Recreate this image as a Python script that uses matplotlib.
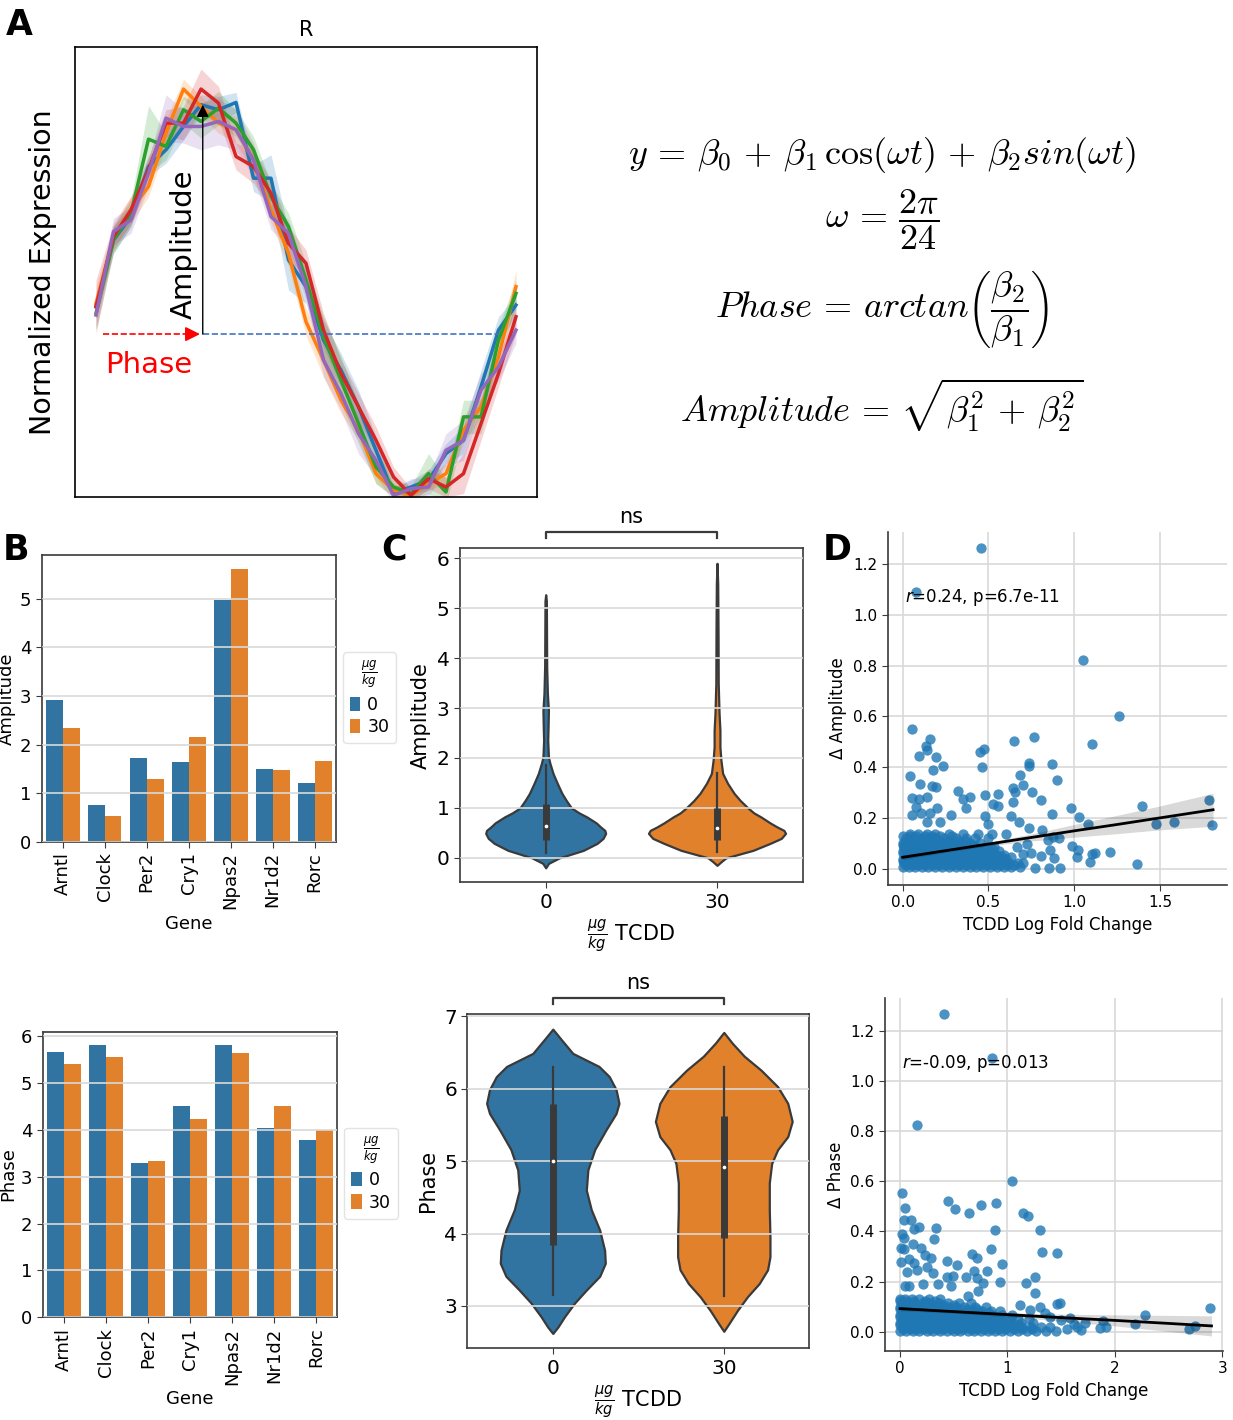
import numpy as np
import matplotlib
matplotlib.use('Agg')
import matplotlib.pyplot as plt
import matplotlib.transforms as mtransforms

plt.rcParams['font.family'] = ['DejaVu Sans']
plt.rcParams['axes.unicode_minus'] = False

blue = '#3274a1'
orange = '#e1812c'
dark = '#3a3a3a'
grid_c = '#d9d9d9'
line_colors = ['#1f77b4', '#ff7f0e', '#2ca02c', '#d62728', '#9467bd']

# ---- panel A: example rhythmic genes (normalized units, mid-line = 0)
time_h = list(range(25))
curve_blue = [0.82, 2.82, 3.52, 5.02, 5.52, 6.22, 6.87, 6.72, 6.94, 4.67, 4.67, 2.22, 1.42,
              -0.18, -1.08, -2.18, -3.48, -4.78, -4.58, -4.38, -3.58, -3.18, -1.58, 0.12, 0.87]
curve_orange = [0.92, 2.92, 3.72, 4.42, 6.02, 7.34, 6.82, 6.32, 6.12, 5.22, 3.72, 2.42, 0.37,
                -0.78, -1.98, -2.88, -4.18, -4.68, -4.83, -4.48, -4.18, -2.88, -2.18, -0.68, 1.42]
curve_green = [0.62, 2.82, 3.62, 5.84, 5.62, 6.72, 6.37, 6.77, 6.32, 5.52, 4.12, 3.22, 1.62,
               -0.08, -1.38, -2.68, -3.98, -4.58, -4.78, -4.18, -4.73, -2.48, -2.48, -0.18, 1.22]
curve_red = [0.82, 2.92, 3.72, 4.92, 6.32, 6.32, 7.34, 6.92, 5.32, 5.02, 4.22, 2.72, 2.12,
             0.12, -1.18, -2.18, -3.18, -4.28, -4.83, -4.33, -4.58, -4.18, -2.68, -1.18, 0.52]
curve_purple = [0.57, 3.07, 3.42, 4.82, 6.47, 6.22, 6.22, 6.37, 6.12, 5.22, 3.52, 3.02, 1.42,
                -0.78, -1.78, -2.98, -3.78, -4.83, -4.63, -4.58, -3.48, -3.18, -1.68, -0.98, 0.12]
band_blue = [0.3, 0.4, 0.3, 0.3, 0.4, 0.4, 0.3, 0.4, 0.3, 0.4, 0.7, 0.9, 0.5,
             0.6, 0.5, 0.5, 0.4, 0.2, 0.2, 0.3, 0.3, 0.4, 0.5, 0.4, 0.3]
band_orange = [0.5, 0.3, 0.4, 0.3, 0.4, 0.3, 0.3, 0.3, 0.4, 0.4, 0.4, 0.4, 0.4,
               0.5, 0.4, 0.3, 0.3, 0.2, 0.1, 0.2, 0.3, 0.4, 0.3, 0.3, 0.5]
band_green = [0.5, 0.4, 0.4, 1.0, 0.4, 0.4, 0.5, 0.5, 0.4, 0.4, 0.4, 0.4, 0.5,
              0.6, 0.7, 0.6, 0.5, 0.3, 0.2, 0.6, 0.4, 0.5, 0.5, 0.4, 0.4]
band_red = [0.8, 0.4, 0.4, 0.4, 0.4, 0.5, 0.6, 0.5, 0.4, 0.5, 0.4, 0.5, 0.4,
            0.5, 0.4, 0.4, 0.4, 0.3, 0.2, 0.3, 0.3, 0.6, 0.5, 0.4, 0.5]
band_purple = [0.4, 0.4, 0.4, 0.4, 0.7, 0.5, 0.7, 0.7, 0.6, 0.5, 0.4, 0.4, 0.4,
               0.5, 0.5, 0.6, 0.5, 0.2, 0.3, 0.3, 0.5, 0.6, 0.5, 0.4, 0.4]
peak_x = 6.1
peak_y = 6.87

# ---- panel B: per gene
genes = ['Arntl', 'Clock', 'Per2', 'Cry1', 'Npas2', 'Nr1d2', 'Rorc']
amp_dose0 = [2.92, 0.76, 1.72, 1.63, 4.98, 1.50, 1.20]
amp_dose30 = [2.35, 0.53, 1.30, 2.15, 5.62, 1.47, 1.66]
phase_dose0 = [5.66, 5.82, 3.29, 4.52, 5.82, 4.05, 3.79]
phase_dose30 = [5.41, 5.55, 3.33, 4.24, 5.64, 4.52, 3.99]
doses = ['0', '30']

# ---- panel C: violin profiles (value, half width) and box stats
amp0_y = [-0.2, -0.11, 0.0, 0.15, 0.29, 0.39, 0.49, 0.55, 0.62, 0.7, 0.82, 0.9, 1.0, 1.15, 1.29,
          1.49, 1.69, 1.89, 2.02, 2.35, 2.62, 2.95, 3.29, 3.82, 4.49, 5.15, 5.27]
amp0_w = [0.0, 0.017, 0.08, 0.22, 0.30, 0.335, 0.35, 0.345, 0.32, 0.295, 0.24, 0.195, 0.15, 0.12, 0.095,
          0.068, 0.043, 0.025, 0.016, 0.012, 0.014, 0.016, 0.01, 0.006, 0.005, 0.004, 0.0]
amp30_y = [-0.15, -0.08, 0.0, 0.15, 0.29, 0.39, 0.49, 0.55, 0.62, 0.7, 0.82, 0.9, 1.0, 1.15, 1.29,
           1.49, 1.69, 1.95, 2.22, 2.55, 2.89, 3.49, 4.49, 5.49, 5.9]
amp30_w = [0.0, 0.023, 0.052, 0.21, 0.31, 0.375, 0.40, 0.39, 0.35, 0.31, 0.256, 0.215, 0.18, 0.135, 0.10,
           0.062, 0.033, 0.023, 0.017, 0.017, 0.012, 0.007, 0.006, 0.004, 0.0]
amp_box = [(0.35, 1.07), (0.35, 0.99)]
amp_whisk = [(0.10, 1.85), (0.12, 1.70)]
amp_median = [0.63, 0.60]

ph0_y = [2.62, 2.71, 2.85, 3.04, 3.22, 3.41, 3.59, 3.77, 4.05, 4.33, 4.60, 4.88, 5.16, 5.43,
         5.66, 5.80, 5.99, 6.17, 6.31, 6.49, 6.68, 6.825]
ph0_w = [0.0, 0.03, 0.068, 0.127, 0.196, 0.274, 0.307, 0.303, 0.274, 0.225, 0.196, 0.205, 0.245, 0.31,
         0.37, 0.387, 0.37, 0.33, 0.27, 0.117, 0.05, 0.0]
ph30_y = [2.65, 2.76, 2.94, 3.13, 3.31, 3.50, 3.68, 3.96, 4.33, 4.70, 4.97, 5.16, 5.34, 5.55,
          5.80, 6.03, 6.26, 6.45, 6.63, 6.78]
ph30_w = [0.0, 0.031, 0.08, 0.139, 0.207, 0.256, 0.27, 0.27, 0.266, 0.266, 0.28, 0.315, 0.374, 0.40,
          0.374, 0.315, 0.217, 0.12, 0.05, 0.0]
ph_box = [(3.84, 5.79), (3.94, 5.63)]
ph_whisk = [(3.15, 6.30), (3.14, 6.30)]
ph_median = [5.00, 4.92]

# ---- panel D: scatter (scattered points + dense cluster rows) and fit
amp_x = [0.459, 0.078, 1.052, 1.259, 1.102, 0.052, 0.159, 0.136, 0.140, 0.093, 0.194, 0.237, 0.175,
         0.043, 0.101, 0.169, 0.194, 0.052, 0.097, 0.140, 0.202, 0.078, 0.052, 0.107, 0.159, 0.140,
         0.218, 0.280, 0.325, 0.350, 0.395, 0.367, 0.451, 0.474, 0.465, 0.478, 0.478, 0.500, 0.525,
         0.558, 0.558, 0.651, 0.766, 0.735, 0.735, 0.641, 0.653, 0.641, 0.630, 0.684, 0.704, 0.754,
         0.680, 0.737, 0.807, 0.869, 0.898, 0.873, 0.814, 0.980, 1.031, 1.078, 1.397, 1.475, 1.582,
         1.788, 1.806, 1.364, 1.209, 1.121, 1.092, 1.020, 1.015, 0.917, 0.851, 0.807, 0.772, 0.879,
         0.910, 0.845, 0.859, 0.884, 0.746, 0.704, 0.684, 1.105, 0.990, 0.725, 0.700, 0.665]
amp_y = [1.264, 1.088, 0.821, 0.601, 0.490, 0.549, 0.511, 0.485, 0.468, 0.443, 0.442, 0.404, 0.389,
         0.367, 0.333, 0.328, 0.324, 0.278, 0.275, 0.282, 0.239, 0.245, 0.212, 0.219, 0.219, 0.186,
         0.186, 0.212, 0.308, 0.274, 0.285, 0.239, 0.460, 0.471, 0.403, 0.291, 0.208, 0.177, 0.254,
         0.249, 0.294, 0.505, 0.518, 0.416, 0.406, 0.320, 0.302, 0.262, 0.208, 0.370, 0.330, 0.304,
         0.184, 0.160, 0.271, 0.413, 0.350, 0.215, 0.153, 0.240, 0.206, 0.176, 0.248, 0.177, 0.186,
         0.271, 0.172, 0.020, 0.067, 0.062, 0.029, 0.075, 0.046, 0.003, 0.003, 0.051, 0.003, 0.127,
         0.123, 0.114, 0.075, 0.042, 0.062, 0.025, 0.009, 0.058, 0.090, 0.100, 0.060, 0.085]
amp_rows_y = [0.006, 0.014, 0.022, 0.030, 0.038, 0.046, 0.054, 0.062, 0.070, 0.078, 0.086, 0.094,
              0.102, 0.111, 0.120, 0.129, 0.138]
amp_rows_x = [
    [0.00, 0.035, 0.07, 0.11, 0.15, 0.19, 0.23, 0.27, 0.31, 0.35, 0.39, 0.43, 0.47, 0.51, 0.55, 0.59, 0.63],
    [0.02, 0.055, 0.09, 0.13, 0.17, 0.21, 0.25, 0.29, 0.33, 0.37, 0.41, 0.45, 0.49, 0.53, 0.57, 0.61, 0.65],
    [0.01, 0.05, 0.09, 0.13, 0.17, 0.21, 0.25, 0.29, 0.33, 0.37, 0.41, 0.45, 0.49, 0.53, 0.57, 0.62, 0.67],
    [0.00, 0.03, 0.07, 0.11, 0.15, 0.19, 0.23, 0.27, 0.31, 0.35, 0.39, 0.43, 0.47, 0.51, 0.55, 0.59],
    [0.00, 0.04, 0.08, 0.12, 0.16, 0.20, 0.24, 0.28, 0.32, 0.36, 0.40, 0.44, 0.48, 0.52, 0.56, 0.60],
    [0.02, 0.06, 0.10, 0.14, 0.18, 0.22, 0.26, 0.30, 0.34, 0.38, 0.42, 0.46, 0.50, 0.54, 0.58, 0.63],
    [0.02, 0.06, 0.10, 0.14, 0.18, 0.22, 0.26, 0.30, 0.34, 0.38, 0.42, 0.46, 0.50, 0.55, 0.59],
    [0.00, 0.04, 0.08, 0.12, 0.16, 0.20, 0.24, 0.28, 0.32, 0.36, 0.40, 0.44, 0.48, 0.53],
    [0.00, 0.04, 0.08, 0.12, 0.16, 0.20, 0.24, 0.28, 0.32, 0.36, 0.40, 0.45, 0.51, 0.56],
    [0.02, 0.06, 0.10, 0.14, 0.18, 0.22, 0.26, 0.31, 0.35, 0.41, 0.47, 0.52],
    [0.01, 0.05, 0.09, 0.13, 0.17, 0.21, 0.25, 0.29, 0.33, 0.38, 0.43, 0.48, 0.53],
    [0.00, 0.03, 0.07, 0.11, 0.15, 0.19, 0.23, 0.27, 0.31, 0.36, 0.41],
    [0.00, 0.04, 0.08, 0.12, 0.16, 0.20, 0.24, 0.29, 0.34, 0.39, 0.45],
    [0.02, 0.06, 0.10, 0.14, 0.18, 0.22, 0.27, 0.32, 0.37],
    [0.02, 0.06, 0.11, 0.15, 0.19, 0.24, 0.31, 0.37, 0.42, 0.50],
    [0.00, 0.04, 0.08, 0.13, 0.17, 0.22, 0.29],
    [0.04, 0.09, 0.14, 0.19, 0.27, 0.35, 0.44, 0.52, 0.60],
]
amp_fit_x = [0.0, 0.25, 0.5, 0.75, 1.0, 1.25, 1.5, 1.81]
amp_fit_y = [0.046, 0.072, 0.098, 0.124, 0.150, 0.175, 0.201, 0.233]
amp_fit_ci = [0.009, 0.006, 0.007, 0.014, 0.025, 0.036, 0.047, 0.065]

ph_x = [0.413, 0.853, 0.158, 1.043, 0.022, 0.043, 0.450, 0.512, 0.642, 0.757, 0.890, 1.148, 1.188,
        1.303, 0.884, 0.034, 0.099, 0.133, 0.180, 0.335, 0.022, 0.034, 0.316, 0.009, 0.040, 0.118,
        0.192, 1.322, 1.461, 0.844, 0.673, 0.720, 0.236, 0.289, 0.009, 0.087, 0.133, 0.155, 0.254,
        0.310, 0.437, 0.534, 0.946, 0.692, 0.807, 0.068, 0.043, 0.087, 0.217, 0.351, 0.434, 0.496,
        0.611, 0.714, 0.770, 0.931, 1.253, 1.173, 1.259, 0.729, 0.636, 0.475, 1.458, 1.489, 2.885,
        2.280, 2.187, 2.693, 2.746, 1.917, 1.862, 1.893, 1.722, 1.582, 1.685, 1.644, 1.55, 1.62,
        1.50, 1.40, 1.35, 1.30, 1.12, 1.21]
ph_y = [1.265, 1.090, 0.823, 0.602, 0.551, 0.492, 0.521, 0.489, 0.473, 0.506, 0.514, 0.473, 0.462,
        0.405, 0.407, 0.445, 0.445, 0.408, 0.419, 0.415, 0.388, 0.372, 0.368, 0.332, 0.328, 0.350,
        0.335, 0.319, 0.315, 0.328, 0.310, 0.292, 0.306, 0.295, 0.276, 0.288, 0.275, 0.246, 0.259,
        0.235, 0.282, 0.264, 0.271, 0.243, 0.241, 0.239, 0.182, 0.182, 0.190, 0.190, 0.217, 0.222,
        0.217, 0.213, 0.193, 0.199, 0.219, 0.193, 0.155, 0.162, 0.142, 0.182, 0.110, 0.113, 0.093,
        0.066, 0.029, 0.009, 0.023, 0.017, 0.013, 0.043, 0.036, 0.053, 0.007, 0.020, 0.010, 0.030,
        0.045, 0.060, 0.075, 0.100, 0.105, 0.085]
ph_rows_y = [0.004, 0.012, 0.020, 0.028, 0.036, 0.044, 0.052, 0.060, 0.068, 0.076, 0.084, 0.092,
             0.100, 0.108, 0.116, 0.124, 0.132]
ph_rows_x = [
    [0.00, 0.06, 0.12, 0.18, 0.25, 0.31, 0.37, 0.44, 0.50, 0.56, 0.63, 0.69, 0.75, 0.82, 0.88, 0.95,
     1.02, 1.10, 1.18, 1.27, 1.36, 1.45],
    [0.03, 0.09, 0.15, 0.21, 0.28, 0.34, 0.40, 0.47, 0.53, 0.59, 0.66, 0.72, 0.78, 0.85, 0.91, 0.98,
     1.06, 1.14, 1.23],
    [0.03, 0.09, 0.15, 0.22, 0.28, 0.34, 0.41, 0.47, 0.53, 0.60, 0.66, 0.72, 0.79, 0.85, 0.92, 0.99,
     1.06, 1.14, 1.22, 1.31, 1.40],
    [0.00, 0.06, 0.12, 0.19, 0.25, 0.31, 0.38, 0.44, 0.50, 0.57, 0.63, 0.69, 0.76, 0.82, 0.89, 0.96,
     1.03, 1.11],
    [0.00, 0.06, 0.12, 0.18, 0.25, 0.31, 0.37, 0.44, 0.50, 0.56, 0.63, 0.69, 0.76, 0.83, 0.90, 0.97,
     1.05, 1.13, 1.24],
    [0.03, 0.09, 0.15, 0.21, 0.28, 0.34, 0.40, 0.47, 0.53, 0.60, 0.66, 0.73, 0.80, 0.87, 0.94, 1.01],
    [0.03, 0.09, 0.15, 0.22, 0.28, 0.34, 0.41, 0.47, 0.53, 0.60, 0.66, 0.73, 0.80, 0.87, 0.94, 1.02,
     1.10, 1.20],
    [0.00, 0.06, 0.12, 0.19, 0.25, 0.31, 0.38, 0.44, 0.50, 0.57, 0.63, 0.70, 0.77, 0.84, 0.91],
    [0.00, 0.06, 0.12, 0.18, 0.25, 0.31, 0.37, 0.44, 0.50, 0.57, 0.64, 0.71, 0.78, 0.86, 0.95, 1.04],
    [0.03, 0.09, 0.15, 0.21, 0.28, 0.34, 0.40, 0.47, 0.54, 0.61, 0.68, 0.75, 0.83],
    [0.03, 0.09, 0.15, 0.22, 0.28, 0.34, 0.41, 0.47, 0.54, 0.61, 0.68, 0.76, 0.85, 0.93],
    [0.00, 0.06, 0.12, 0.19, 0.25, 0.32, 0.39, 0.46, 0.53, 0.62, 0.72],
    [0.00, 0.06, 0.12, 0.18, 0.25, 0.31, 0.38, 0.45, 0.52, 0.60, 0.70, 0.80],
    [0.03, 0.09, 0.15, 0.22, 0.30, 0.40, 0.50],
    [0.02, 0.08, 0.14, 0.21, 0.28, 0.36, 0.45, 0.55, 0.66],
    [0.00, 0.06, 0.13, 0.23, 0.33],
    [0.00, 0.05, 0.11, 0.18, 0.27, 0.37],
]
ph_fit_x = [0.0, 0.5, 1.0, 1.5, 2.0, 2.5, 2.9]
ph_fit_y = [0.092, 0.080, 0.068, 0.056, 0.045, 0.033, 0.023]
ph_fit_ci = [0.008, 0.006, 0.008, 0.014, 0.022, 0.032, 0.040]

W, H = 1233, 1420
fig = plt.figure(figsize=(W / 100, H / 100), dpi=100)


def add_ax(left, top, right, bottom):
    return fig.add_axes([left / W, 1 - bottom / H, (right - left) / W, (bottom - top) / H])


def style_box(ax, size):
    for s in ax.spines.values():
        s.set_color(dark)
        s.set_linewidth(1.2)
    ax.tick_params(labelsize=size, color=dark, length=4)


# ================= A
ax = add_ax(75, 47, 537, 497)
curves = [curve_blue, curve_orange, curve_green, curve_red, curve_purple]
bands = [band_blue, band_orange, band_green, band_red, band_purple]
for yv, bv, c in zip(curves, bands, line_colors):
    yv = np.array(yv)
    bv = np.array(bv)
    ax.fill_between(time_h, yv - bv, yv + bv, color=c, alpha=0.2, lw=0)
for yv, c in zip(curves, line_colors):
    ax.plot(time_h, yv, color=c, lw=2.5)
ax.set_xlim(-1.2, 25.2)
ax.set_ylim(-4.88, 8.6)
ax.set_xticks([])
ax.set_yticks([])
for s in ax.spines.values():
    s.set_color('black')
    s.set_linewidth(1.2)
ax.plot([peak_x, 23.05], [0, 0], ls='--', color='#4472c4', lw=1.2)
ax.plot([0.38, peak_x - 0.5], [0, 0], ls='--', color='red', lw=1.2)
ax.annotate('', xy=(peak_x, 0), xytext=(peak_x - 0.6, 0),
            arrowprops=dict(arrowstyle='-|>', color='red', lw=1.2, mutation_scale=22))
ax.annotate('', xy=(peak_x, peak_y), xytext=(peak_x, 0),
            arrowprops=dict(arrowstyle='-|>', color='black', lw=1, mutation_scale=18, shrinkA=0, shrinkB=0))
ax.text(5.0, 2.7, 'Amplitude', rotation=90, ha='center', va='center', fontsize=21)
ax.text(2.99, -0.93, 'Phase', color='red', ha='center', va='center', fontsize=21)
ax.set_ylabel('Normalized Expression', fontsize=20.5, labelpad=13)
ax.set_title('R', fontsize=15, pad=8)

eq_kw = dict(ha='center', va='center', fontsize=26, math_fontfamily='cm')
fig.text(882 / W, 1 - 155 / H,
         r'$y\,=\,\beta_0\,+\,\beta_1\,\cos(\omega t)\,+\,\beta_2 sin(\omega t)$', **eq_kw)
fig.text(882 / W, 1 - 220 / H, r'$\omega\,=\,\dfrac{2\pi}{24}$', **eq_kw)
fig.text(882 / W, 1 - 310 / H, r'$Phase\,=\,arctan\left(\dfrac{\beta_2}{\beta_1}\right)$', **eq_kw)
fig.text(882 / W, 1 - 405 / H, r'$Amplitude\,=\,\sqrt{\beta_1^2\,+\,\beta_2^2}$', **eq_kw)


# ================= B
def draw_bars(ax, v0, v30, ylabel, ytop, legend_top):
    x = np.arange(len(genes))
    b0 = ax.bar(x - 0.2, v0, 0.4, color=blue, zorder=1)
    b30 = ax.bar(x + 0.2, v30, 0.4, color=orange, zorder=1)
    ax.set_xticks(x)
    ax.set_xticklabels(genes, rotation=90)
    ax.set_xlim(-0.5, len(genes) - 0.5)
    ax.set_ylim(0, ytop)
    ax.set_axisbelow(False)
    ax.yaxis.grid(True, color=grid_c, lw=1.2)
    ax.set_xlabel('Gene', fontsize=13)
    ax.set_ylabel(ylabel, fontsize=13, labelpad=2.5)
    style_box(ax, 13)
    leg = ax.legend([b0, b30], doses, title=r'$\frac{\mu g}{kg}$', loc='upper left',
                    bbox_to_anchor=(1.025, legend_top), borderaxespad=0, fontsize=12.5,
                    title_fontsize=12, handlelength=0.6, handleheight=0.9, handletextpad=0.4,
                    borderpad=0.4, labelspacing=0.25)
    leg.get_frame().set_edgecolor('#dddddd')


ax = add_ax(41.7, 555, 335.7, 841.7)
draw_bars(ax, amp_dose0, amp_dose30, 'Amplitude', 5.9, 0.66)
ax = add_ax(42.7, 1031.7, 337, 1317.3)
draw_bars(ax, phase_dose0, phase_dose30, 'Phase', 6.1, 0.663)


# ================= C
def draw_violin(ax, pos, ys, ws, color, box, whisk, med):
    ys = np.array(ys)
    ws = np.array(ws)
    ax.fill_betweenx(ys, pos - ws, pos + ws, facecolor=color, edgecolor=dark, lw=1.6, zorder=2)
    ax.plot([pos, pos], whisk, color=dark, lw=1.6, zorder=3)
    ax.plot([pos, pos], box, color=dark, lw=5, solid_capstyle='butt', zorder=3)
    ax.scatter([pos], [med], color='white', s=7, zorder=4, lw=0)


def draw_violins(ax, profiles, boxes, whisks, meds, ylabel, ylim, yticks):
    colors = [blue, orange]
    for i, (ys, ws) in enumerate(profiles):
        draw_violin(ax, i, ys, ws, colors[i], boxes[i], whisks[i], meds[i])
    ax.set_xlim(-0.5, 1.5)
    ax.set_ylim(*ylim)
    ax.set_yticks(yticks)
    ax.set_xticks([0, 1])
    ax.set_xticklabels(doses)
    ax.set_axisbelow(False)
    ax.yaxis.grid(True, color=grid_c, lw=1.2)
    ax.set_ylabel(ylabel, fontsize=15)
    ax.set_xlabel(r'$\frac{\mu g}{kg}$ TCDD', fontsize=15)
    style_box(ax, 14.5)
    tr = mtransforms.blended_transform_factory(ax.transData, ax.transAxes)
    ax.plot([0, 0, 1, 1], [1.03, 1.05, 1.05, 1.03], color=dark, lw=1.6, transform=tr, clip_on=False)
    ax.text(0.5, 1.065, 'ns', transform=tr, ha='center', va='bottom', fontsize=15)


ax = add_ax(460, 548.3, 802.7, 882.3)
draw_violins(ax, [(amp0_y, amp0_w), (amp30_y, amp30_w)], amp_box, amp_whisk, amp_median,
             'Amplitude', (-0.49, 6.2), [0, 1, 2, 3, 4, 5, 6])
ax = add_ax(467.3, 1014.3, 809.3, 1348.3)
draw_violins(ax, [(ph0_y, ph0_w), (ph30_y, ph30_w)], ph_box, ph_whisk, ph_median,
             'Phase', (2.415, 7.03), [3, 4, 5, 6, 7])


# ================= D
def draw_scatter(ax, sx, sy, rows_y, rows_x, fx, fy, fci, ylabel, note, xlim, ylim, xticks, xlabels):
    bx = [x for xs in rows_x for x in xs]
    by = [y for y, xs in zip(rows_y, rows_x) for _ in xs]
    ax.scatter(bx + list(sx), by + list(sy), s=55, color='#1f77b4', alpha=0.8, lw=0, zorder=2)
    fy = np.array(fy)
    fci = np.array(fci)
    ax.fill_between(fx, fy - fci, fy + fci, color='black', alpha=0.15, lw=0, zorder=3)
    ax.plot(fx, fy, color='black', lw=2, zorder=4)
    ax.set_xlim(*xlim)
    ax.set_ylim(*ylim)
    ax.set_xticks(xticks)
    ax.set_xticklabels(xlabels)
    ax.set_yticks([0, 0.2, 0.4, 0.6, 0.8, 1.0, 1.2])
    ax.set_yticklabels(['0.0', '0.2', '0.4', '0.6', '0.8', '1.0', '1.2'])
    ax.set_axisbelow(True)
    ax.grid(True, color=grid_c, lw=1.2)
    ax.spines['top'].set_visible(False)
    ax.spines['right'].set_visible(False)
    style_box(ax, 11)
    ax.set_xlabel('TCDD Log Fold Change', fontsize=12)
    ax.set_ylabel(ylabel, fontsize=12)
    ax.text(0.05, 0.815, note, transform=ax.transAxes, ha='left', va='center', fontsize=12, zorder=5)


ax = add_ax(887.7, 531.7, 1227.3, 885)
draw_scatter(ax, amp_x, amp_y, amp_rows_y, amp_rows_x, amp_fit_x, amp_fit_y, amp_fit_ci,
             '\u0394 Amplitude', r'$r$=0.24, p=6.7e-11', (-0.0875, 1.893), (-0.063, 1.327),
             [0, 0.5, 1.0, 1.5], ['0.0', '0.5', '1.0', '1.5'])
ax = add_ax(885, 998.3, 1223.3, 1351)
draw_scatter(ax, ph_x, ph_y, ph_rows_y, ph_rows_x, ph_fit_x, ph_fit_y, ph_fit_ci,
             '\u0394 Phase', r'$r$=-0.09, p=0.013', (-0.14, 3.01), (-0.077, 1.329),
             [0, 1, 2, 3], ['0', '1', '2', '3'])

# panel letters
for lab, x in [('A', 0.005), ('B', 0.002), ('C', 0.309), ('D', 0.667)]:
    y = 1 - 35 / H if lab == 'A' else 1 - 560 / H
    fig.text(x, y, lab, fontsize=25, fontweight='bold', va='baseline')

fig.savefig('out.png', dpi=100)
